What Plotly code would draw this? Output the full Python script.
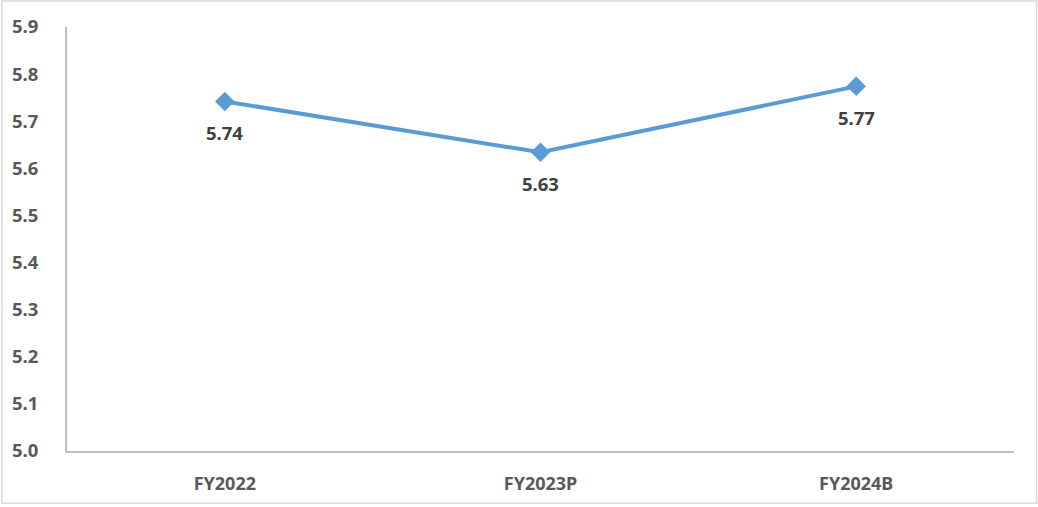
import plotly.graph_objects as go

categories = ["FY2022", "FY2023P", "FY2024B"]
values = [5.742, 5.634, 5.774]
y_ticks = [5.0, 5.1, 5.2, 5.3, 5.4, 5.5, 5.6, 5.7, 5.8, 5.9]

W, H = 1038, 507
ml, mr, mt, mb = 66, 24, 27, 54
pw, ph = W - ml - mr, H - mt - mb

fig = go.Figure()
fig.add_trace(go.Scatter(
    x=categories, y=values, mode="lines+markers",
    line=dict(color="#5B9BD5", width=4),
    marker=dict(symbol="diamond", size=15, color="#5B9BD5"),
    hoverinfo="skip", showlegend=False,
))
for c, v in zip(categories, values):
    fig.add_annotation(x=c, y=v, text=f"{v:.2f}", showarrow=False, yshift=-31,
                       font=dict(family="Noto Sans", size=18.5, color="#404040", weight="bold"))

fig.update_layout(
    width=W, height=H,
    margin=dict(l=ml, r=mr, t=mt, b=mb),
    paper_bgcolor="white", plot_bgcolor="white",
    font=dict(family="Noto Sans", size=16, color="#595959", weight="bold"),
    xaxis=dict(showgrid=False, showline=True, linecolor="#bfbfbf", linewidth=2,
               ticks="", ticklabelstandoff=15, range=[-0.5, 2.5],
               tickfont=dict(size=18, color="#595959", weight="bold")),
    yaxis=dict(range=[5.0, 5.9], tickvals=y_ticks, ticktext=[f"{t:.1f}" for t in y_ticks],
               showgrid=False, showline=True, linecolor="#bfbfbf", linewidth=2,
               zeroline=False, ticks="", ticklabelstandoff=23,
               tickfont=dict(size=18.5, color="#595959", weight="bold")),
    shapes=[dict(type="rect", xref="paper", yref="paper",
                 x0=-(ml - 1) / pw, x1=1 + (mr - 1.5) / pw,
                 y0=-(mb - 1.5) / ph, y1=1 + (mt - 1) / ph,
                 line=dict(color="#d9d9d9", width=1.5), layer="below")],
)
fig.write_html("out.html", config={"displayModeBar": False},
               post_script="document.body.style.margin='0';document.body.style.overflow='hidden';")
